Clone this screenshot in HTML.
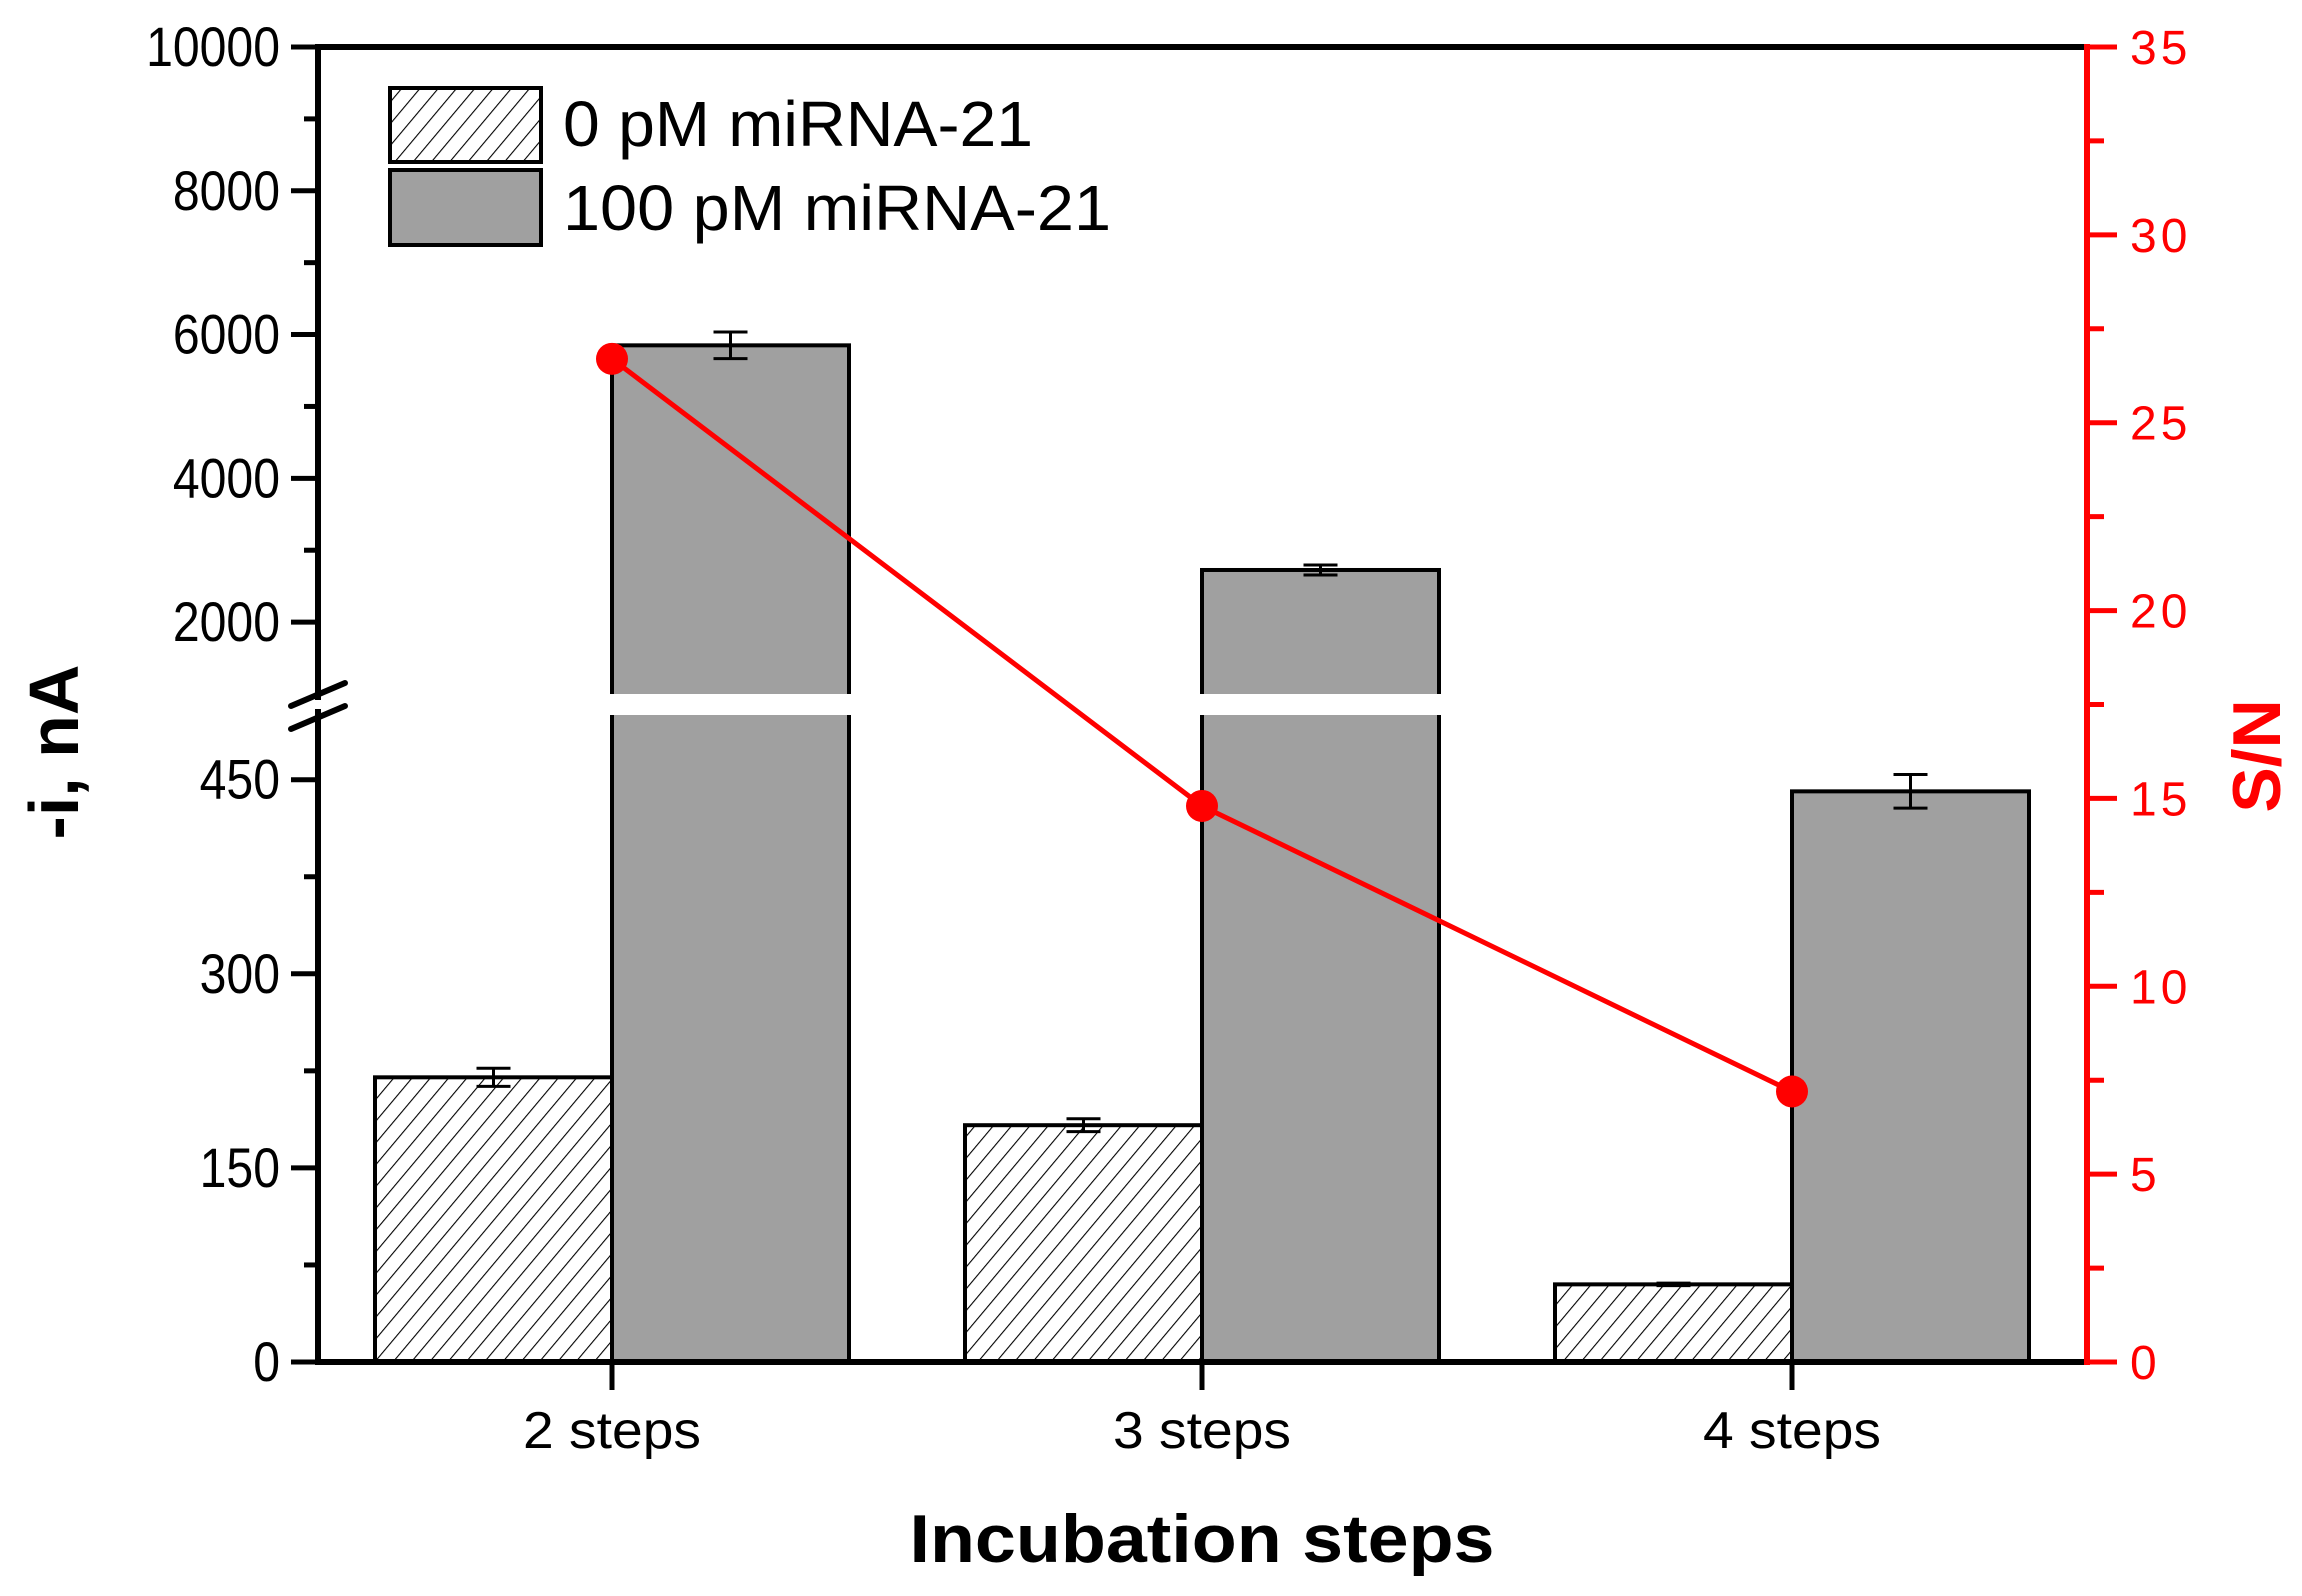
<!DOCTYPE html>
<html><head><meta charset="utf-8"><style>
html,body{margin:0;padding:0;background:#fff}
svg{display:block}
text{font-family:"Liberation Sans",Arial,sans-serif}
</style></head><body>
<svg id="chart" width="2302" height="1596" viewBox="0 0 2302 1596" xmlns="http://www.w3.org/2000/svg">
<defs>
<pattern id="hatch" patternUnits="userSpaceOnUse" width="14" height="14" patternTransform="rotate(40)">
<rect width="14" height="14" fill="#fff"/>
<line x1="0" y1="0" x2="0" y2="14" stroke="#000" stroke-width="2.2"/>
</pattern>
</defs>
<g id="plot"></g>
</svg>
<script>
const categories = ["2 steps","3 steps","4 steps"];
const blankValues = [220, 183, 60];
const blankErrors = [7, 5, 1];
const targetValues = [5850, 2725, 441];
const targetErrors = [185, 70, 13];
const snValues = [26.7, 14.8, 7.2];
const upperTicks = [2000, 4000, 6000, 8000, 10000];
const lowerTicks = [0, 150, 300, 450];
const rightTicks = [0, 5, 10, 15, 20, 25, 30, 35];

const NS = "http://www.w3.org/2000/svg";
const g = document.getElementById('plot');
const L = 318, R = 2087, T = 47, B = 1362;
const gapTop = 694, gapBot = 715;
function yLeft(v){
  if (v <= 500) return B - (v/500)*(B-gapBot);
  return gapTop - (v-1000)/9000*(gapTop-T);
}
function yRight(v){ return B - v/35*(B-T); }
const catX0 = 612, catStep = 590, barW = 237;
function xCat(i){ return catX0 + i*catStep; }
function mk(tag, attrs, parent){
  const e = document.createElementNS(NS, tag);
  for (const k in attrs) e.setAttribute(k, attrs[k]);
  (parent||g).appendChild(e); return e;
}
function txt(s, attrs){ const e = mk('text', attrs); e.textContent = s; return e; }

categories.forEach((c,i)=>{
  const x = xCat(i);
  let yb = yLeft(blankValues[i]);
  const b1 = mk('rect',{x:x-barW,y:yb,width:barW,height:B-yb,fill:'url(#hatch)',stroke:'#000','stroke-width':4});
  
  
  let yt = yLeft(targetValues[i]);
  const b2 = mk('rect',{x:x,y:yt,width:barW,height:B-yt,fill:'#a0a0a0',stroke:'#000','stroke-width':4});
  
  
  if (targetValues[i] > 1000){
    const w = mk('rect',{x:x-6,y:gapTop,width:barW+12,height:gapBot-gapTop,fill:'#fff'});
    
    
  }
  [[x-barW/2, blankValues[i], blankErrors[i]],[x+barW/2, targetValues[i], targetErrors[i]]].forEach(([cx,v,e])=>{
    const y1 = yLeft(v+e), y2 = yLeft(v-e);
    const eb = mk('path',{d:`M${cx},${y1}V${y2}M${cx-17},${y1}H${cx+17}M${cx-17},${y2}H${cx+17}`,stroke:'#000','stroke-width':3,fill:'none'});
    
    
  });
});

mk('line',{x1:L,y1:T,x2:R,y2:T,stroke:'#000','stroke-width':6});
const xa = mk('line',{x1:L-3,y1:B,x2:R,y2:B,stroke:'#000','stroke-width':6});


const la1 = mk('line',{x1:L,y1:T-3,x2:L,y2:gapTop+6,stroke:'#000','stroke-width':6});


const la2 = mk('line',{x1:L,y1:gapBot-6,x2:L,y2:B+3,stroke:'#000','stroke-width':6});


const br = mk('path',{d:'M291,706L345,683M291,729L345,706',stroke:'#000','stroke-width':6,'stroke-linecap':'round'});


const ra = mk('line',{x1:R,y1:T-3,x2:R,y2:B+3,stroke:'#f00','stroke-width':6});



function leftLabel(v){
  const y=yLeft(v);
  mk('line',{x1:L-27,y1:y,x2:L,y2:y,stroke:'#000','stroke-width':5});
  const t = txt(String(v),{x:L-38,y:y+19,'font-size':56,'text-anchor':'end',transform:`translate(${L-38},0) scale(0.86,1) translate(${-(L-38)},0)`});
  
  
}
upperTicks.forEach(leftLabel);
lowerTicks.forEach(leftLabel);
for (let v=3000; v<=9000; v+=2000){ const y=yLeft(v); mk('line',{x1:L-14,y1:y,x2:L,y2:y,stroke:'#000','stroke-width':5}); }
for (let v=75; v<=375; v+=150){ const y=yLeft(v); mk('line',{x1:L-14,y1:y,x2:L,y2:y,stroke:'#000','stroke-width':5}); }

rightTicks.forEach(v=>{
  const y=yRight(v);
  mk('line',{x1:R,y1:y,x2:R+30,y2:y,stroke:'#f00','stroke-width':5});
  const t = txt(String(v),{x:R+43,y:y+17,'font-size':48,fill:'#f00','letter-spacing':4});
  
  
});
for (let v=2.5; v<35; v+=5){ const y=yRight(v); mk('line',{x1:R,y1:y,x2:R+17,y2:y,stroke:'#f00','stroke-width':5}); }

categories.forEach((c,i)=>{
  const x=xCat(i);
  mk('line',{x1:x,y1:B,x2:x,y2:B+28,stroke:'#000','stroke-width':5});
  const t = txt(c,{x:x,y:1448,'font-size':52,'text-anchor':'middle',textLength:178,lengthAdjust:'spacingAndGlyphs'});
  
  
});

const pts = snValues.map((v,i)=>`${xCat(i)},${yRight(v)}`).join(' ');
const pl = mk('polyline',{points:pts,fill:'none',stroke:'#f00','stroke-width':5});


snValues.forEach((v,i)=>{
  const c = mk('circle',{cx:xCat(i),cy:yRight(v),r:16,fill:'#f00'});
  
  
});

const lg = mk('g',{});


mk('rect',{x:390,y:88,width:151,height:74,fill:'url(#hatch)',stroke:'#000','stroke-width':4},lg);
mk('rect',{x:390,y:170,width:151,height:75,fill:'#a0a0a0',stroke:'#000','stroke-width':4},lg);
const l1 = txt('0 pM miRNA-21',{x:563,y:146,'font-size':64,textLength:470,lengthAdjust:'spacingAndGlyphs'});


const l2 = txt('100 pM miRNA-21',{x:563,y:230,'font-size':64,textLength:548,lengthAdjust:'spacingAndGlyphs'});



const xt = txt('Incubation steps',{x:1202,y:1562,'font-size':68,'font-weight':'bold','text-anchor':'middle',textLength:585,lengthAdjust:'spacingAndGlyphs'});


const yt = txt('-i, nA',{x:0,y:0,'font-size':70,'font-weight':'bold','text-anchor':'middle',transform:'translate(78,752) rotate(-90)'});


const rt = txt('S/N',{x:0,y:0,'font-size':68,'font-weight':'bold','text-anchor':'middle',fill:'#f00',transform:'translate(2280,756) rotate(-90)'});


</script>
</body></html>
